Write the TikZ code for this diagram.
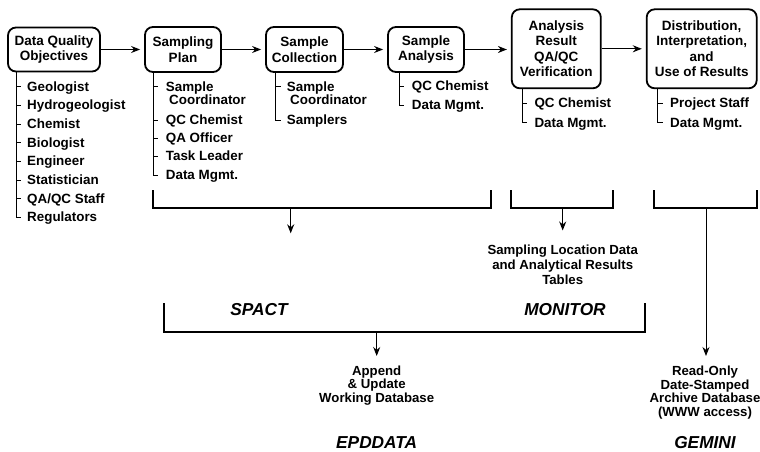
\documentclass[tikz,border=0pt]{standalone}
\usepackage{fontspec}
\setmainfont{Liberation Sans}
\usetikzlibrary{arrows.meta}
\begin{document}
\begin{tikzpicture}[x=1pt,y=-1pt,
  stage/.style={draw, line width=1.8pt, rounded corners=8pt, align=center,
    font=\fontsize{13.5}{15.5}\selectfont\bfseries, inner sep=0pt},
  role/.style={anchor=base west, inner sep=0pt, font=\fontsize{13.4}{15}\selectfont\bfseries},
  tree/.style={line width=1pt},
  flow/.style={line width=1.2pt, -{Stealth[length=9pt,width=7pt]}, shorten >=4pt},
  drop/.style={line width=1.2pt, -{Stealth[length=9pt,width=7pt]}},
  bracket/.style={line width=2pt},
  sysname/.style={inner sep=0pt, font=\fontsize{17.3}{17.3}\selectfont\bfseries\itshape},
  note/.style={align=center, inner sep=0pt, font=\fontsize{13.2}{13.5}\selectfont\bfseries}
]
\useasboundingbox (0,0) rectangle (760,452);

% workflow stages
\node[stage, minimum width=92pt, minimum height=44pt] (dqo) at (54,49.5) {Data Quality\\Objectives};
\node[stage, minimum width=76pt, minimum height=45pt] (plan) at (183,49.5) {Sampling\\Plan};
\node[stage, minimum width=77pt, minimum height=45pt] (coll) at (304.5,49.5) {Sample\\Collection};
\node[stage, minimum width=76pt, minimum height=45pt] (anal) at (426,49.5) {Sample\\Analysis};
\node[stage, minimum width=89pt, minimum height=79pt] (verif) at (556.3,48.8) {Analysis\\Result\\QA/QC\\Verification};
\node[stage, minimum width=110pt, minimum height=79pt] (dist) at (701.7,48.8) {Distribution,\\Interpretation,\\and\\Use of Results};

\draw[flow] (dqo.east) -- (dqo.east -| plan.west);
\draw[flow] (plan.east) -- (plan.east -| coll.west);
\draw[flow] (coll.east) -- (coll.east -| anal.west);
\draw[flow] (anal.east) -- (anal.east -| verif.west);
\draw[flow] (verif.east) -- (verif.east -| dist.west);

% roles under Data Quality Objectives
\foreach \t [count=\i from 0] in {Geologist,Hydrogeologist,Chemist,Biologist,Engineer,Statistician,QA/QC Staff,Regulators}{
  \node[role] (dqo-r\i) at (27,{86.7+18.67*\i+4.6}) {\t};
}
\draw[tree] (dqo.south -| 16,0) -- (16,217.4) -- (21,217.4);
\foreach \y in {86.7,105.4,124.0,142.7,161.4,180.0,198.7}{\draw[tree] (16,\y) -- (21,\y);}

% roles under Sampling Plan
\node[role] (plan-r1) at (165.7,91.3) {Sample};
\node[role] (plan-r1b) at (169,104.6) {Coordinator};
\node[role] (plan-r2) at (165.7,124.6) {QC Chemist};
\node[role] (plan-r3) at (165.7,142.9) {QA Officer};
\node[role] (plan-r4) at (165.7,160.6) {Task Leader};
\node[role] (plan-r5) at (165.7,179.6) {Data Mgmt.};
\draw[tree] (plan.south -| 153.3,0) -- (153.3,175) -- (158.3,175);
\foreach \y in {86.7,120,138.3,156}{\draw[tree] (153.3,\y) -- (158.3,\y);}

% roles under Sample Collection
\node[role] (coll-r1) at (286.7,91.3) {Sample};
\node[role] (coll-r1b) at (290,104.6) {Coordinator};
\node[role] (coll-r2) at (286.7,124.6) {Samplers};
\draw[tree] (coll.south -| 275.7,0) -- (275.7,120) -- (280.7,120);
\draw[tree] (275.7,86.7) -- (280.7,86.7);

% roles under Sample Analysis
\node[role] (anal-r1) at (411.7,90.6) {QC Chemist};
\node[role] (anal-r2) at (411.7,109.6) {Data Mgmt.};
\draw[tree] (anal.south -| 399,0) -- (399,105) -- (404,105);
\draw[tree] (399,86) -- (404,86);

% roles under verification
\node[role] (verif-r1) at (534.3,107.9) {QC Chemist};
\node[role] (verif-r2) at (534.3,127.3) {Data Mgmt.};
\draw[tree] (verif.south -| 522.3,0) -- (522.3,122.7) -- (527.3,122.7);
\draw[tree] (522.3,103.3) -- (527.3,103.3);

% roles under distribution
\node[role] (dist-r1) at (670,107.9) {Project Staff};
\node[role] (dist-r2) at (670,127.3) {Data Mgmt.};
\draw[tree] (dist.south -| 657.7,0) -- (657.7,122.7) -- (662.7,122.7);
\draw[tree] (657.7,103.3) -- (662.7,103.3);

% groupings of stages
\draw[bracket] (153.3,190) -- (153.3,207.7) -- (490.7,207.7) -- (490.7,190);
\coordinate (g1) at (290.7,207.7);
\coordinate (g1end) at (290.7,233.3);
\draw[drop] (g1) -- (g1end);

\draw[bracket] (510.7,190) -- (510.7,207.7) -- (613.3,207.7) -- (613.3,190);
\coordinate (g2) at (562.7,207.7);
\coordinate (g2end) at (562.7,230.5);
\node[note, font=\fontsize{13.2}{15.2}\selectfont\bfseries] (tables) at (562.7,264.5) {Sampling Location Data\\and Analytical Results\\Tables};
\draw[drop] (g2) -- (g2end);

\draw[bracket] (654,190) -- (654,207.7) -- (756.7,207.7) -- (756.7,190);
\coordinate (g3) at (706,207.7);
\coordinate (g3end) at (706,356);
\node[note] (archive) at (705,392.5) {Read-Only\\Date-Stamped\\Archive Database\\(WWW access)};
\draw[drop, line width=1pt] (g3) -- (g3end);

% database systems
\node[sysname] (spact) at (259,310) {SPACT};
\node[sysname] (monitor) at (565,310) {MONITOR};
\draw[bracket] (164,303) -- (164,331.7) -- (645,331.7) -- (645,303);
\coordinate (g4) at (376.7,331.7);
\coordinate (g4end) at (376.7,356);
\node[note] (append) at (376.7,385.5) {Append\\\& Update\\Working Database};
\draw[drop] (g4) -- (g4end);

\node[sysname] (epd) at (376.7,442.5) {EPDDATA};
\node[sysname] (gemini) at (705,442.5) {GEMINI};
\end{tikzpicture}
\end{document}
